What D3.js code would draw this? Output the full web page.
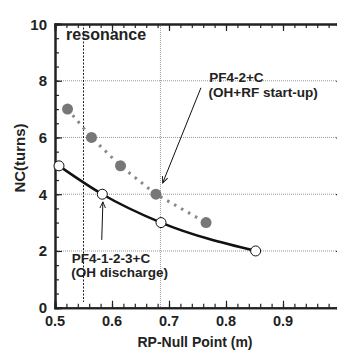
<!DOCTYPE html>
<html>
<head>
<meta charset="utf-8">
<script src="https://cdn.jsdelivr.net/npm/d3@7"></script>
<style>
  html, body { margin: 0; padding: 0; background: #fff; }
  svg text { font-family: "Liberation Sans", Arial, sans-serif; font-weight: bold; fill: #222; }
</style>
</head>
<body>
<svg id="chart" width="337" height="354"></svg>
<script>
// OH discharge scenario (open circles, solid line)
const rpOH = [0.507, 0.583, 0.686, 0.852];
const ncOH = [5, 4, 3, 2];
// OH+RF start-up scenario (grey dots, dotted line)
const rpRF = [0.522, 0.564, 0.615, 0.677, 0.765];
const ncRF = [7, 6, 5, 4, 3];

const xTicks = [0.5, 0.6, 0.7, 0.8, 0.9];
const yTicks = [0, 2, 4, 6, 8, 10];
const yGrid = [2, 4, 6, 8];
const resonanceX = 0.55;
const markerX = 0.685;

const svg = d3.select("#chart");
const width = 337, height = 354;

// plot box (right edge runs slightly past the picture)
const x = d3.scaleLinear().domain([0.5, 1.0]).range([55, 340]);
const y = d3.scaleLinear().domain([0, 10]).range([307.7, 24]);

// grid lines
svg.append("g")
  .selectAll("line")
  .data(yGrid)
  .join("line")
  .attr("x1", x(0.5)).attr("x2", x(1.0))
  .attr("y1", d => y(d)).attr("y2", d => y(d))
  .attr("stroke", "#999")
  .attr("stroke-width", 1)
  .attr("stroke-dasharray", "1 1");

svg.append("line")
  .attr("x1", x(markerX)).attr("x2", x(markerX))
  .attr("y1", y(10)).attr("y2", y(0))
  .attr("stroke", "#999")
  .attr("stroke-width", 1)
  .attr("stroke-dasharray", "1 1");

svg.append("line")
  .attr("x1", x(resonanceX)).attr("x2", x(resonanceX))
  .attr("y1", y(10)).attr("y2", y(0.2))
  .attr("stroke", "#222")
  .attr("stroke-width", 1)
  .attr("stroke-dasharray", "2 1.5");

// axes, ticks pointing inwards
const xMinor = d3.range(0.5, 1.0001, 0.02);
const yMinor = d3.range(0, 10.001, 0.5);

svg.append("g")
  .attr("transform", `translate(0,${y(0)})`)
  .call(d3.axisBottom(x).tickValues(xMinor).tickSize(-4).tickFormat(""));
svg.append("g")
  .attr("transform", `translate(0,${y(0)})`)
  .call(d3.axisBottom(x).tickValues(xTicks.concat([1.0])).tickSize(-7).tickFormat(""));
svg.append("g")
  .attr("transform", `translate(0,${y(10)})`)
  .call(d3.axisTop(x).tickValues(xMinor).tickSize(-4).tickFormat(""));
svg.append("g")
  .attr("transform", `translate(0,${y(10)})`)
  .call(d3.axisTop(x).tickValues(xTicks).tickSize(-7).tickFormat(""));
svg.append("g")
  .attr("transform", `translate(${x(0.5)},0)`)
  .call(d3.axisLeft(y).tickValues(yMinor).tickSize(-4).tickFormat(""));
svg.append("g")
  .attr("transform", `translate(${x(0.5)},0)`)
  .call(d3.axisLeft(y).tickValues(yTicks).tickSize(-7).tickFormat(""));
svg.append("g")
  .attr("transform", `translate(${x(1.0)},0)`)
  .call(d3.axisRight(y).tickValues(yGrid).tickSize(-4).tickFormat(""));

svg.selectAll(".domain").attr("stroke", "#222").attr("stroke-width", 2);
svg.selectAll(".tick line").attr("stroke", "#222").attr("stroke-width", 1.2);

// tick labels
svg.append("g")
  .selectAll("text")
  .data(xTicks)
  .join("text")
  .attr("x", d => x(d))
  .attr("y", 325.5)
  .attr("text-anchor", "middle")
  .style("font-size", "14.5px")
  .text(d => d3.format(".1f")(d));

svg.append("g")
  .selectAll("text")
  .data(yTicks)
  .join("text")
  .attr("x", 47)
  .attr("y", d => y(d) + 5.5)
  .attr("text-anchor", "end")
  .style("font-size", "15px")
  .text(d => d);

// axis titles
svg.append("text")
  .attr("x", 195)
  .attr("y", 347)
  .attr("text-anchor", "middle")
  .style("font-size", "14px")
  .text("RP-Null Point (m)");

svg.append("text")
  .attr("transform", "translate(25,158) rotate(-90)")
  .attr("text-anchor", "middle")
  .style("font-size", "15px")
  .text("NC(turns)");

// OH+RF series
const rfPts = rpRF.map((d, i) => [d, ncRF[i]]);
svg.append("path")
  .datum(rfPts)
  .attr("fill", "none")
  .attr("stroke", "#888")
  .attr("stroke-width", 3)
  .attr("stroke-dasharray", "2.5 5.5")
  .attr("d", d3.line().x(d => x(d[0])).y(d => y(d[1])));

svg.append("g")
  .selectAll("circle")
  .data(rfPts)
  .join("circle")
  .attr("cx", d => x(d[0]))
  .attr("cy", d => y(d[1]))
  .attr("r", 5.5)
  .attr("fill", "#777");

// OH series
const ohPts = rpOH.map((d, i) => [d, ncOH[i]]);
svg.append("path")
  .datum(ohPts)
  .attr("fill", "none")
  .attr("stroke", "#111")
  .attr("stroke-width", 2.5)
  .attr("d", d3.line().curve(d3.curveMonotoneX).x(d => x(d[0])).y(d => y(d[1])));

svg.append("g")
  .selectAll("circle")
  .data(ohPts)
  .join("circle")
  .attr("cx", d => x(d[0]))
  .attr("cy", d => y(d[1]))
  .attr("r", 5)
  .attr("fill", "#fff")
  .attr("stroke", "#111")
  .attr("stroke-width", 1);

// annotations
svg.append("defs").append("marker")
  .attr("id", "arrow")
  .attr("viewBox", "0 0 10 10")
  .attr("refX", 9).attr("refY", 5)
  .attr("markerWidth", 7).attr("markerHeight", 7)
  .attr("orient", "auto")
  .append("path")
  .attr("d", "M0,1 L9,5 L0,9")
  .attr("fill", "none")
  .attr("stroke", "#111")
  .attr("stroke-width", 1.3);

const arrows = [
  [[0.756, 7.75], [0.689, 4.4]],
  [[0.582, 2.39], [0.584, 3.73]]
];
svg.append("g")
  .selectAll("line")
  .data(arrows)
  .join("line")
  .attr("x1", d => x(d[0][0])).attr("y1", d => y(d[0][1]))
  .attr("x2", d => x(d[1][0])).attr("y2", d => y(d[1][1]))
  .attr("stroke", "#111")
  .attr("stroke-width", 1)
  .attr("marker-end", "url(#arrow)");

const notes = [
  { x: 0.5195, y: 9.44, size: 16, text: "resonance" },
  { x: 0.7705, y: 7.94, size: 13.5, text: "PF4-2+C" },
  { x: 0.7695, y: 7.42, size: 13.5, text: "(OH+RF start-up)" },
  { x: 0.5295, y: 1.57, size: 13.5, text: "PF4-1-2-3+C" },
  { x: 0.5285, y: 1.07, size: 13.5, text: "(OH discharge)" }
];
svg.append("g")
  .selectAll("text")
  .data(notes)
  .join("text")
  .attr("x", d => x(d.x))
  .attr("y", d => y(d.y))
  .style("font-size", d => d.size + "px")
  .text(d => d.text);
</script>
</body>
</html>
